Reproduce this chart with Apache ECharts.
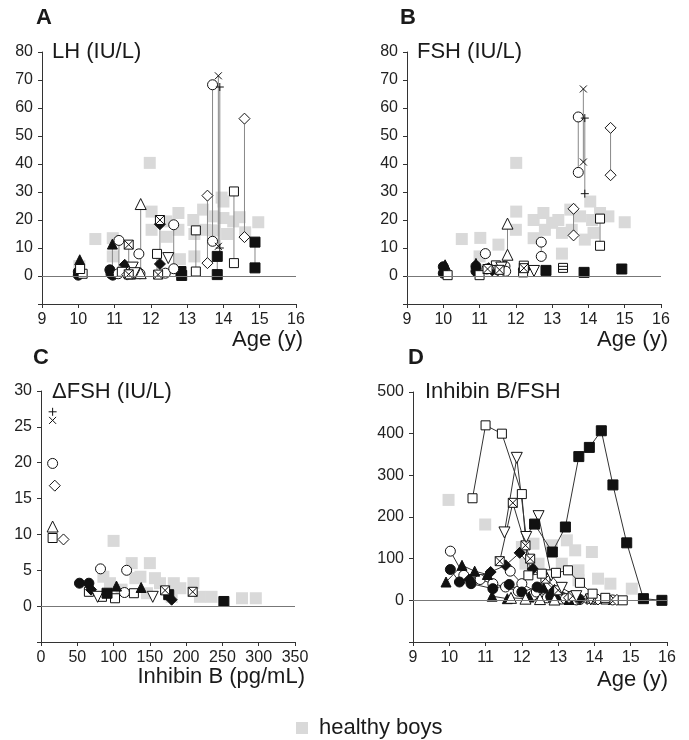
<!doctype html>
<html>
<head>
<meta charset="UTF-8">
<title>LH / FSH / Inhibin B</title>
<script src="https://cdn.jsdelivr.net/npm/echarts@6/dist/echarts.min.js"></script>
<style>
  html, body { margin: 0; padding: 0; background: #fff; }
  #main { width: 689px; height: 740px; }
</style>
</head>
<body>
<div id="main"></div>
<script>
// ---- A: LH (IU/L) vs age ----
var aHealthy = [[10.47,13.2],[10.95,13.5],[10.95,7],[10.03,3.5],[11.97,40.4],[12.02,23],[12.02,16.5],[12.43,19.5],
  [12.76,22.5],[12.76,16.5],[12.8,6],[12.44,14],[13.17,20],[13.2,15],[13.2,7],[13.44,23.7],[13.5,16.5],[13.72,21.3],
  [14.0,26.6],[14.0,20.7],[14.1,15],[14.27,19.5],[14.45,21],[14.6,15.6],[13.72,16.3],[14.96,19.2],[13.95,28]];
var aFilledTri = [[10.04,5.8],[10.94,11.4]];
var aFilledCircle = [[10.0,1.5],[10.0,0.3],[10.87,2.2],[10.9,0.8],[10.95,0.3]];
var aFilledDiamond = [[11.28,4.0],[11.3,0.8],[12.25,18.5],[12.25,4.3]];
var aFilledSquare = [[12.83,1.6],[12.85,0.2],[13.83,7.0],[13.83,0.5],[14.87,12.1],[14.87,2.9]];
var aOpenCircle = [[11.12,12.7],[11.1,0.8],[11.67,7.9],[11.7,0.8],[12.4,1.0],[12.63,18.3],[12.63,2.6],[13.70,68.3],[13.70,12.4]];
var aOpenSquare = [[10.12,0.8],[10.05,2.5],[11.2,1.5],[11.45,0.5],[12.17,7.9],[13.24,16.3],[13.24,1.6],[14.29,30.2],[14.29,4.6]];
var aOpenTri = [[11.72,25.7],[11.72,1.0]];
var aOpenInvTri = [[11.5,3.0],[12.48,6.4],[11.55,1.0]];
var aOpenDiamond = [[11.35,0.5],[13.56,28.7],[13.56,4.6],[14.58,56.2],[14.58,13.9]];
var aCrossSquare = [[11.39,11.2],[11.39,0.6],[12.25,20.0],[12.2,0.5]];
var aXMark = [[13.86,71.5],[13.86,10.6]];
var aPlus = [[13.9,67.5],[13.9,10]];
// vertical links: [age, low, high]
var aLinks = [[10.94,2.2,11.4],[11.12,0.8,12.7],[11.39,0.6,11.2],[11.28,0.8,4.0],[11.72,1.0,25.7],[12.25,4.3,20.0],
  [12.17,0.5,7.9],[12.63,2.6,18.3],[12.85,0.2,1.6],[13.24,1.6,16.3],[13.56,4.6,28.7],[13.70,12.4,68.3],
  [13.86,10.6,71.5],[13.9,10,67.5],[13.83,0.5,7.0],[14.29,4.6,30.2],[14.58,13.9,56.2],[14.87,2.9,12.1]];

// ---- B: FSH (IU/L) vs age ----
var bHealthy = [[10.51,13.2],[11.02,13.6],[11.0,7],[11.52,11.2],[12.01,40.4],[12.01,23],[12.0,16.5],[12.49,20],
  [12.49,13.5],[12.76,22.5],[12.8,16.5],[13.0,19],[13.17,20],[13.27,15.4],[13.27,8],[13.5,23.7],[13.54,16.5],
  [13.77,21.3],[14.05,26.6],[14.1,20],[14.14,15.4],[14.32,22.5],[14.55,21.3],[15.0,19.2],[13.9,13]];
var bFilledTri = [[10.05,4.0],[10.9,4.5]];
var bFilledCircle = [[10.0,3.3],[10.0,1.0],[10.9,3.5],[10.9,1.7]];
var bFilledDiamond = [[11.25,2.8],[11.35,2.0],[12.28,2.9],[12.22,2.2]];
var bFilledSquare = [[12.83,2.0],[13.88,1.3],[14.92,2.5]];
var bOpenCircle = [[11.16,8.0],[11.2,2.5],[11.7,3.5],[11.72,1.7],[12.7,12.1],[12.7,7.0],[13.72,56.8],[13.72,37.0]];
var bOpenSquare = [[10.12,0.3],[11.0,0.3],[11.45,3.8],[12.2,1.3],[12.22,3.7],[14.32,20.5],[14.32,10.8]];
var bOpenTri = [[11.77,18.7],[11.77,7.6]];
var bOpenInvTri = [[11.5,1.8],[12.5,1.8],[11.6,3.0]];
var bOpenDiamond = [[13.59,24.0],[13.59,14.5],[14.61,52.9],[14.61,36.0]];
var bCrossSquare = [[11.22,2.5],[11.55,2.2],[12.22,2.8]];
var bXMark = [[13.86,66.8],[13.86,40.7]];
var bPlus = [[13.9,56.4],[13.9,29.4]];
var bStriped = [[13.3,2.9]];
var bLinks = [[11.77,7.6,18.7],[12.7,7.0,12.1],[13.72,37.0,56.8],[13.86,40.7,66.8],[13.9,29.4,56.4],
  [13.59,14.5,24.0],[14.61,36.0,52.9],[14.32,10.8,20.5]];

// ---- C: delta FSH vs inhibin B ----
var cHealthy = [[100,9.1],[86,4.1],[95,3.2],[125,6],[130,3.9],[150,6],[137,4.1],[157,3.9],[164,3.2],[183,3.2],
  [180,1.3],[192,2.5],[210,3.2],[219,1.3],[235,1.3],[277,1.1],[296,1.1],[111,2.3],[146,1.8]];
var cPlus = [[16,27.1]];
var cXMark = [[16,25.9]];
var cOpenCircle = [[16,19.9],[82,5.2],[118,5.0],[115,1.9]];
var cOpenDiamond = [[19,16.8],[31,9.3]];
var cOpenTri = [[16,11.1]];
var cOpenSquare = [[16,9.5],[66,2.0],[84,1.3],[102,1.1],[128,1.8]];
var cFilledCircle = [[53,3.2],[66,3.2]];
var cFilledDiamond = [[69,2.3],[180,0.9]];
var cOpenInvTri = [[78,1.3],[154,1.3]];
var cFilledSquare = [[91,1.8],[176,1.6],[252,0.65]];
var cFilledTri = [[104,2.8],[138,2.6]];
var cCrossSquare = [[171,2.2],[209,2.0]];

// ---- D: inhibin B / FSH vs age (one line per boy) ----
var dHealthy = [[9.98,241],[10.99,182],[12.0,128],[12.32,136],[12.83,132],[13.24,144],[13.47,120],[13.93,116],
  [14.1,52],[14.44,40],[15.03,28],[13.56,72],[12.1,88],[12.46,88],[13.1,88],[13.56,48]];
var dOpenSquareAge = [10.64,11.0,11.45,12.0,12.18,12.55,12.94,13.27,13.6,13.95,14.3,14.78];
var dOpenSquareVal = [245,420,400,255,60,64,66,72,42,16,6,0];
var dFilledSquareAge = [12.35,12.84,13.2,13.57,13.86,14.19,14.51,14.89,15.35,15.86];
var dFilledSquareVal = [183,116,176,345,367,407,277,138,4,0];
var dInvTriAge = [11.52,11.86,12.12,12.46,12.81,13.1,13.5,13.9];
var dInvTriVal = [163,342,152,202,60,30,10,2];
var dCrossSqAge = [11.39,11.75,12.1,12.23,12.65,13.0,13.4,13.9,14.3];
var dCrossSqVal = [94,234,132,100,52,24,10,4,2];
var dFilledDiamondAge = [10.55,11.14,11.55,11.94,12.3,12.9,13.6];
var dFilledDiamondVal = [50,68,84,114,75,25,3];
var dOpenCircle1Age = [10.03,10.4,10.85,11.2,11.55,11.9,12.3,12.7,13.1,13.5];
var dOpenCircle1Val = [118,60,50,40,32,22,12,6,3,1];
var dOpenCircle2Age = [11.68,12.0,12.4,12.8,13.2,13.6,14.0,14.5];
var dOpenCircle2Val = [70,40,20,8,4,2,2,1];
var dFilledTriAge = [9.91,10.35,10.7,11.05,11.18,11.6];
var dFilledTriVal = [44,84,70,62,10,4];
var dFilledTri2Age = [12.2,12.6,12.95,13.3];
var dFilledTri2Val = [8,30,12,2];
var dFilledCircleAge = [10.03,10.28,10.6,11.2,11.65,12.0,12.42,12.8];
var dFilledCircleVal = [74,44,40,28,38,20,32,10];
var dOpenDiamondAge = [13.3,13.8,14.1,14.4,14.62];
var dOpenDiamondVal = [6,3,2,2,1];
var dOpenTriAge = [11.7,12.1,12.5,12.9];
var dOpenTriVal = [6,4,3,2];

var SYM = {
  filledTri:    { symbol: 'triangle', size: 10, fill: '#111' },
  filledCircle: { symbol: 'circle', size: 10, fill: '#111' },
  filledDiamond:{ symbol: 'diamond', size: 11, fill: '#111' },
  filledSquare: { symbol: 'rect', size: 10, fill: '#111' },
  openCircle:   { symbol: 'circle', size: 10, fill: '#fff' },
  openSquare:   { symbol: 'rect', size: 9, fill: '#fff' },
  openTri:      { symbol: 'triangle', size: 11, fill: '#fff' },
  openInvTri:   { symbol: 'triangle', size: 11, fill: '#fff', rotate: 180 },
  openDiamond:  { symbol: 'diamond', size: 11, fill: '#fff' },
  crossSquare:  { symbol: 'path://M0,0L10,0L10,10L0,10ZM0,0L10,10M10,0L0,10', size: 9, fill: '#fff' },
  xMark:        { symbol: 'path://M0,0L10,10M10,0L0,10', size: 7, fill: '#fff' },
  plus:         { symbol: 'path://M5,0L5,10M0,5L10,5', size: 8, fill: '#fff' },
  striped:      { symbol: 'path://M0,0L10,0L10,10L0,10ZM0,3.3L10,3.3M0,6.7L10,6.7', size: 9, fill: '#fff' }
};

var series = [];

function healthy(idx, data) {
  series.push({
    name: 'healthy boys', type: 'scatter', xAxisIndex: idx, yAxisIndex: idx, data: data,
    symbol: 'rect', symbolSize: 12, itemStyle: { color: '#d9d9d9', opacity: 1 }, z: 1, silent: true,
    markLine: {
      silent: true, symbol: 'none', label: { show: false },
      lineStyle: { color: '#777', type: 'solid', width: 1 },
      data: [{ yAxis: 0 }]
    }
  });
}

function marks(idx, data, key) {
  var s = SYM[key];
  series.push({
    type: 'scatter', xAxisIndex: idx, yAxisIndex: idx, data: data,
    symbol: s.symbol, symbolSize: s.size, symbolRotate: s.rotate || 0,
    itemStyle: { color: s.fill, borderColor: '#111', borderWidth: 1, opacity: 1 }, z: 4
  });
}

function links(idx, list) {
  list.forEach(function (l) {
    series.push({
      type: 'line', xAxisIndex: idx, yAxisIndex: idx, data: [[l[0], l[1]], [l[0], l[2]]],
      symbol: 'none', lineStyle: { color: '#888', width: 1 }, silent: true, z: 2
    });
  });
}

function track(idx, ages, vals, key) {
  var s = SYM[key];
  series.push({
    type: 'line', xAxisIndex: idx, yAxisIndex: idx,
    data: ages.map(function (a, i) { return [a, vals[i]]; }),
    symbol: s.symbol, symbolSize: s.size, symbolRotate: s.rotate || 0, showAllSymbol: true,
    lineStyle: { color: '#333', width: 1 },
    itemStyle: { color: s.fill, borderColor: '#111', borderWidth: 1, opacity: 1 }, z: 4
  });
}

// panel A
healthy(0, aHealthy);
links(0, aLinks);
marks(0, aFilledTri, 'filledTri'); marks(0, aFilledCircle, 'filledCircle');
marks(0, aFilledDiamond, 'filledDiamond'); marks(0, aFilledSquare, 'filledSquare');
marks(0, aOpenCircle, 'openCircle'); marks(0, aOpenSquare, 'openSquare');
marks(0, aOpenTri, 'openTri'); marks(0, aOpenInvTri, 'openInvTri');
marks(0, aOpenDiamond, 'openDiamond'); marks(0, aCrossSquare, 'crossSquare');
marks(0, aXMark, 'xMark'); marks(0, aPlus, 'plus');
// panel B
healthy(1, bHealthy);
links(1, bLinks);
marks(1, bFilledTri, 'filledTri'); marks(1, bFilledCircle, 'filledCircle');
marks(1, bFilledDiamond, 'filledDiamond'); marks(1, bFilledSquare, 'filledSquare');
marks(1, bOpenCircle, 'openCircle'); marks(1, bOpenSquare, 'openSquare');
marks(1, bOpenTri, 'openTri'); marks(1, bOpenInvTri, 'openInvTri');
marks(1, bOpenDiamond, 'openDiamond'); marks(1, bCrossSquare, 'crossSquare');
marks(1, bXMark, 'xMark'); marks(1, bPlus, 'plus'); marks(1, bStriped, 'striped');
// panel C
healthy(2, cHealthy);
marks(2, cPlus, 'plus'); marks(2, cXMark, 'xMark');
marks(2, cOpenCircle, 'openCircle'); marks(2, cOpenDiamond, 'openDiamond');
marks(2, cOpenTri, 'openTri'); marks(2, cOpenSquare, 'openSquare');
marks(2, cFilledCircle, 'filledCircle'); marks(2, cFilledDiamond, 'filledDiamond');
marks(2, cOpenInvTri, 'openInvTri'); marks(2, cFilledSquare, 'filledSquare');
marks(2, cFilledTri, 'filledTri'); marks(2, cCrossSquare, 'crossSquare');
// panel D
healthy(3, dHealthy);
track(3, dOpenCircle1Age, dOpenCircle1Val, 'openCircle');
track(3, dOpenCircle2Age, dOpenCircle2Val, 'openCircle');
track(3, dFilledTriAge, dFilledTriVal, 'filledTri');
track(3, dFilledTri2Age, dFilledTri2Val, 'filledTri');
track(3, dFilledCircleAge, dFilledCircleVal, 'filledCircle');
track(3, dOpenDiamondAge, dOpenDiamondVal, 'openDiamond');
track(3, dOpenTriAge, dOpenTriVal, 'openTri');
track(3, dFilledDiamondAge, dFilledDiamondVal, 'filledDiamond');
track(3, dCrossSqAge, dCrossSqVal, 'crossSquare');
track(3, dInvTriAge, dInvTriVal, 'openInvTri');
track(3, dOpenSquareAge, dOpenSquareVal, 'openSquare');
track(3, dFilledSquareAge, dFilledSquareVal, 'filledSquare');

var FONT = '"Liberation Sans", Arial, sans-serif';

function xAx(idx, min, max, step) {
  return {
    gridIndex: idx, type: 'value', min: min, max: max, interval: step,
    axisLine: { onZero: false, lineStyle: { color: '#333' } },
    axisTick: { length: 4, lineStyle: { color: '#333' } },
    axisLabel: { fontSize: 16, color: '#222', margin: 8 },
    splitLine: { show: false }
  };
}
function yAx(idx, min, max, step) {
  return {
    gridIndex: idx, type: 'value', min: min, max: max, interval: step,
    axisLine: { show: true, onZero: false, lineStyle: { color: '#333' } },
    axisTick: { show: true, length: 4, lineStyle: { color: '#333' } },
    axisLabel: { fontSize: 16, color: '#222', margin: 9,
      formatter: function (v) { return v < 0 ? '' : v; } },
    splitLine: { show: false }
  };
}

function txt(s, x, y, align, bold) {
  return {
    type: 'text', x: x, y: y, silent: true,
    style: { text: s, fill: '#1a1a1a', textAlign: align || 'left', textVerticalAlign: 'middle',
      font: (bold ? 'bold ' : 'normal ') + '22px ' + FONT }
  };
}

var option = {
  animation: false,
  textStyle: { fontFamily: FONT },
  grid: [
    { left: 42, top: 52, width: 254, height: 252 },
    { left: 407, top: 52, width: 254, height: 252 },
    { left: 41, top: 391, width: 254, height: 251 },
    { left: 413, top: 392, width: 254, height: 250 }
  ],
  xAxis: [xAx(0, 9, 16, 1), xAx(1, 9, 16, 1), xAx(2, 0, 350, 50), xAx(3, 9, 16, 1)],
  yAxis: [yAx(0, -10, 80, 10), yAx(1, -10, 80, 10), yAx(2, -5, 30, 5), yAx(3, -100, 500, 100)],
  legend: {
    data: ['healthy boys'], left: 296, top: 717, padding: 0,
    icon: 'rect', itemWidth: 12, itemHeight: 12,
    textStyle: { fontSize: 22, color: '#1a1a1a', padding: [0, 0, 0, 6] }
  },
  graphic: [
    txt('A', 36, 18, 'left', true),
    txt('LH (IU/L)', 52, 52),
    txt('B', 400, 18, 'left', true),
    txt('FSH (IU/L)', 417, 52),
    txt('Age (y)', 303, 340, 'right'),
    txt('Age (y)', 668, 340, 'right'),
    txt('C', 33, 358, 'left', true),
    txt('\u0394FSH (IU/L)', 52, 392),
    txt('D', 408, 358, 'left', true),
    txt('Inhibin B/FSH', 425, 392),
    txt('Inhibin B (pg/mL)', 305, 677, 'right'),
    txt('Age (y)', 668, 680, 'right')
  ],
  series: series
};

var myChart = echarts.init(document.getElementById('main'));
myChart.setOption(option);
</script>
</body>
</html>
